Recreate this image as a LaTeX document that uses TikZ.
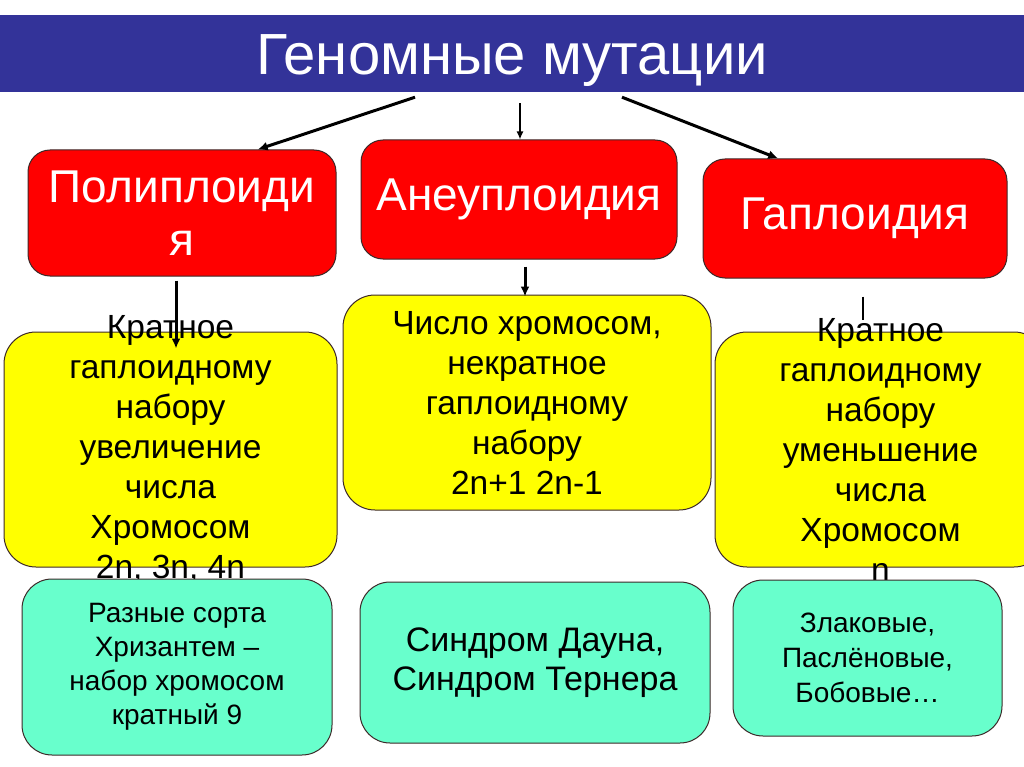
\documentclass[tikz,border=0pt]{standalone}
\usepackage{fontspec}
\setmainfont{Liberation Sans}
\usetikzlibrary{arrows.meta,positioning}
\definecolor{TitleBlue}{RGB}{51,51,153}
\definecolor{BoxRed}{RGB}{255,0,0}
\definecolor{BoxYellow}{RGB}{255,255,0}
\definecolor{BoxGreen}{RGB}{104,255,204}
\definecolor{EdgeGray}{RGB}{60,40,40}

\begin{document}
\begin{tikzpicture}[x=1pt, y=-1pt,
	box/.style={draw=EdgeGray, line width=1pt, inner sep=0pt, align=center},
	redbox/.style={box, fill=BoxRed, rounded corners=22pt, text=white, font=\fontsize{46}{53}\selectfont},
	yellowbox/.style={box, fill=BoxYellow, rounded corners=32pt, font=\fontsize{33.5}{40}\selectfont},
	greenbox/.style={box, fill=BoxGreen, rounded corners=30pt},
	yellowtext/.style={align=center, inner sep=0pt, font=\fontsize{33.5}{40}\selectfont},
	arr/.style={line width=3pt, -{Latex[length=10pt,width=9pt]}}]
	\useasboundingbox (0,0) rectangle (1024,767);
	\fill[white] (0,0) rectangle (1024,767);
	\node[fill=TitleBlue, minimum width=1024, minimum height=77, inner sep=0pt] (bar) at (512,53.5) {};
	\node[text=white, font=\fontsize{58}{62}\selectfont, anchor=base] (title) at (512,75) {Геномные мутации};
	\node[redbox, minimum width=308, minimum height=126] (polyR) at (182,213) {Полиплоиди\\я};
	\node[redbox, minimum width=316, minimum height=119] (aneuR) at (519,199.5) {Анеуплоидия};
	\node[redbox, minimum width=304, minimum height=119] (haplR) at (855,218.5) {Гаплоидия};
	\draw[arr] (bar.south) ++(-97,5) -- (polyR.40);
	\draw[line width=1.5pt, -{Latex[length=8pt,width=7pt]}] (aneuR.north |- bar.south) ++(1,11) -- ([xshift=1pt]aneuR.north);
	\draw[arr] (bar.south) ++(110,5) -- (haplR.142);
	\node[yellowbox, minimum width=333, minimum height=235] (polyY) at (170.5,449.5) {};
	\node[yellowtext] (polyT) at (polyY) {Кратное\\гаплоидному\\набору\\увеличение\\числа\\Хромосом\\2n, 3n, 4n};
	\node[yellowbox, minimum width=368, minimum height=215] (aneuY) at (527,402.5) {Число хромосом,\\некратное\\гаплоидному\\набору\\2n+1 2n-1};
	\node[yellowbox, minimum width=331, minimum height=235] (haplY) at (880.5,449.5) {};
	\node[yellowtext] (haplT) at (haplY) {Кратное\\гаплоидному\\набору\\уменьшение\\числа\\Хромосом\\n};
	\draw[arr] (polyR.south) ++(-6,4) -- ++(0,68);
	\draw[arr] (aneuR.south) ++(6,7) -- ++(0,30);
	\draw[line width=2.5pt] (haplR.south) ++(8,18) -- ++(0,23);
	\node[greenbox, minimum width=310, minimum height=176, font=\fontsize{28}{34}\selectfont] (polyG) at (177,667) {Разные сорта\\Хризантем –\\набор хромосом\\кратный 9};
	\node[greenbox, minimum width=350, minimum height=161, font=\fontsize{34}{39}\selectfont] (aneuG) at (535,662.5) {Синдром Дауна,\\Синдром Тернера};
	\node[greenbox, minimum width=269, minimum height=156, font=\fontsize{28}{35}\selectfont] (haplG) at (867.5,658) {Злаковые,\\Паслёновые,\\Бобовые…};
\end{tikzpicture}
\end{document}
